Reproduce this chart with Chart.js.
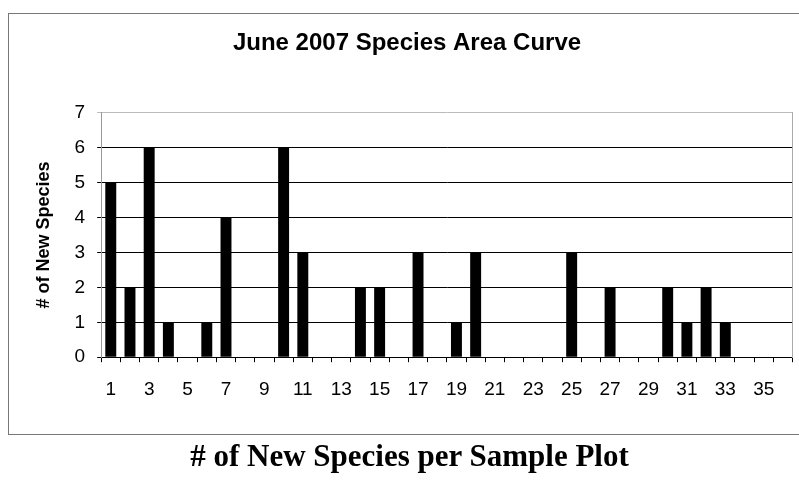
<!DOCTYPE html>
<html>
<head>
<meta charset="utf-8">
<script src="https://cdn.jsdelivr.net/npm/chart.js@4.4.1/dist/chart.umd.min.js"></script>
<style>
  body { margin: 0; background: #fff; width: 799px; height: 481px; overflow: hidden; position: relative; }
  #box { position: absolute; left: 8px; top: 13px; width: 800px; height: 420px; border: 1px solid #777; border-right: none; }
  #speciesChart { position: absolute; left: 0; top: 0; }
  #xtitle { position: absolute; left: 20px; top: 438px; width: 779px; text-align: center;
            font: bold 31px "Liberation Serif", "DejaVu Serif", serif; color: #000; }
</style>
</head>
<body>
<div id="box"></div>
<canvas id="speciesChart" width="799" height="440"></canvas>
<div id="xtitle"># of New Species per Sample Plot</div>
<script>
const plots = ['1','2','3','4','5','6','7','8','9','10','11','12','13','14','15','16','17','18',
  '19','20','21','22','23','24','25','26','27','28','29','30','31','32','33','34','35','36'];
const newSpecies = [5, 2, 6, 1, 0, 1, 4, 0, 0, 6, 3, 0, 0, 2, 2, 0, 3, 0,
  1, 3, 0, 0, 0, 0, 3, 0, 2, 0, 0, 2, 1, 2, 1, 0, 0, 0];
const yTicks = [0, 1, 2, 3, 4, 5, 6, 7];

const speciesChart = document.getElementById('speciesChart');
new Chart(speciesChart, {
  type: 'bar',
  data: {
    labels: plots,
    datasets: [{
      label: '# of New Species',
      data: newSpecies,
      backgroundColor: '#000',
      barPercentage: 0.57,
      categoryPercentage: 1
    }]
  },
  options: {
    responsive: false,
    animation: false,
    layout: { padding: { left: 21, top: 18, right: 6, bottom: 23 } },
    plugins: {
      legend: { display: false },
      tooltip: { enabled: false },
      title: {
        display: true,
        text: 'June 2007 Species Area Curve',
        color: '#000',
        font: { family: 'Liberation Sans', size: 24, weight: 'bold' },
        padding: { top: 11, bottom: 55 }
      }
    },
    scales: {
      x: {
        grid: { drawOnChartArea: false, drawTicks: true, tickLength: 5, color: '#000', offset: true },
        border: { color: '#000', width: 1 },
        ticks: {
          autoSkip: false,
          maxRotation: 0,
          padding: 16,
          color: '#000',
          font: { family: 'Liberation Sans', size: 19 },
          callback: function (v, i) { return i % 2 === 0 ? plots[i] : ''; }
        }
      },
      y: {
        min: yTicks[0],
        max: yTicks[yTicks.length - 1],
        afterBuildTicks: function (scale) { scale.ticks = yTicks.map(v => ({ value: v })); },
        grid: {
          tickLength: 4,
          color: ctx => ctx.tick && ctx.tick.value === 7 ? '#bbb' : '#000'
        },
        border: { color: '#999' },
        ticks: {
          padding: 12,
          color: '#000',
          font: { family: 'Liberation Sans', size: 19 }
        },
        title: {
          display: true,
          text: '# of New Species',
          color: '#000',
          font: { family: 'Liberation Sans', size: 18, weight: 'bold' },
          padding: { top: 12, bottom: 8 }
        }
      },
      y2: {
        position: 'right',
        min: 0,
        max: 7,
        grid: { drawOnChartArea: false, drawTicks: false },
        border: { color: '#aaa' },
        ticks: { display: false }
      }
    }
  }
});
</script>
</body>
</html>
